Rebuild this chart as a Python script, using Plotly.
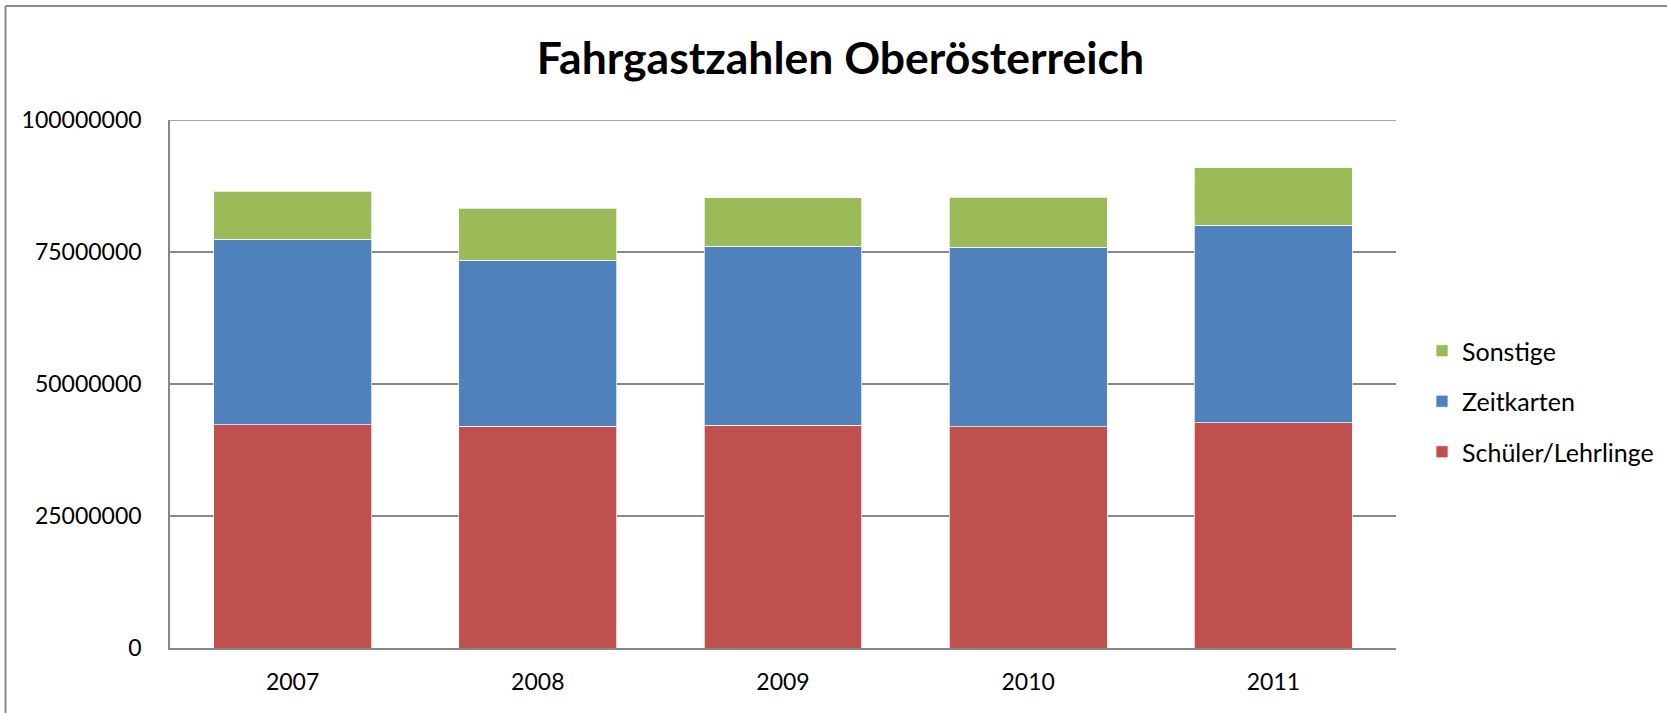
import plotly.graph_objects as go

years = ["2007", "2008", "2009", "2010", "2011"]
schueler = [42300000, 42000000, 42200000, 41900000, 42700000]
zeitkarten = [35100000, 31450000, 33900000, 34000000, 37350000]
sonstige = [9150000, 9830000, 9200000, 9500000, 10950000]
y_ticks = [0, 25000000, 50000000, 75000000, 100000000]

W, H = 1667, 713
L, R, T, B = 170, 1396, 120, 648

FONT = "Lato"
GRID = "#878787"

fig = go.Figure()
series = [
    ("Schüler/Lehrlinge", schueler, "#C0504D", 3),
    ("Zeitkarten", zeitkarten, "#4F81BD", 2),
    ("Sonstige", sonstige, "#9BBB59", 1),
]
for name, vals, col, rank in series:
    fig.add_trace(go.Bar(
        x=years, y=vals, name=name, legendgroup=name, legendrank=rank,
        marker=dict(color=col, line=dict(color="rgba(255,255,255,0.7)", width=1)),
    ))

fig.update_layout(
    width=W, height=H,
    barmode="stack", bargap=0.356,
    paper_bgcolor="white", plot_bgcolor="white",
    margin=dict(l=L, r=W - R, t=T, b=H - B, autoexpand=False),
    font=dict(family=FONT, size=23, color="black"),
    title=dict(
        text="<b>Fahrgastzahlen Oberösterreich</b>",
        x=840.5 / W, xref="container", xanchor="center",
        y=1 - 58.5 / H, yref="container", yanchor="middle",
        font=dict(family=FONT, size=44.5, color="black"),
    ),
    legend=dict(
        traceorder="grouped", tracegroupgap=15,
        x=(1422 - L) / (R - L), xanchor="left",
        y=(H - 401.5 - (H - B)) / (B - T), yanchor="middle",
        font=dict(family=FONT, size=25, color="black"),
        bgcolor="rgba(0,0,0,0)",
    ),
    xaxis=dict(
        showline=True, linecolor=GRID, linewidth=1.5,
        ticks="", ticklabelstandoff=13,
        tickfont=dict(family=FONT, size=23, color="black"),
    ),
    yaxis=dict(
        range=[0, 100000000], tickvals=y_ticks, tickformat="d",
        showgrid=True, gridcolor=GRID, gridwidth=1.5,
        showline=True, linecolor=GRID, linewidth=1.5,
        zeroline=False, ticks="", ticklabelstandoff=22,
        tickfont=dict(family=FONT, size=23, color="black"),
    ),
    shapes=[
        dict(type="line", xref="paper", yref="y",
             x0=0, x1=1, y0=y_ticks[-1], y1=y_ticks[-1],
             line=dict(color=GRID, width=1.5), layer="below"),
        dict(type="line", xref="paper", yref="paper",
             x0=(5.5 - L) / (R - L), x1=(W - L) / (R - L),
             y0=(H - 6 - (H - B)) / (B - T), y1=(H - 6 - (H - B)) / (B - T),
             line=dict(color="#8A8A8A", width=2)),
        dict(type="line", xref="paper", yref="paper",
             x0=(5.5 - L) / (R - L), x1=(5.5 - L) / (R - L),
             y0=(H - 6 - (H - B)) / (B - T), y1=(0 - (H - B)) / (B - T),
             line=dict(color="#8A8A8A", width=2)),
    ],
)

fig.write_html("out.html", config={"displayModeBar": False},
               post_script="document.body.style.margin='0px';")
